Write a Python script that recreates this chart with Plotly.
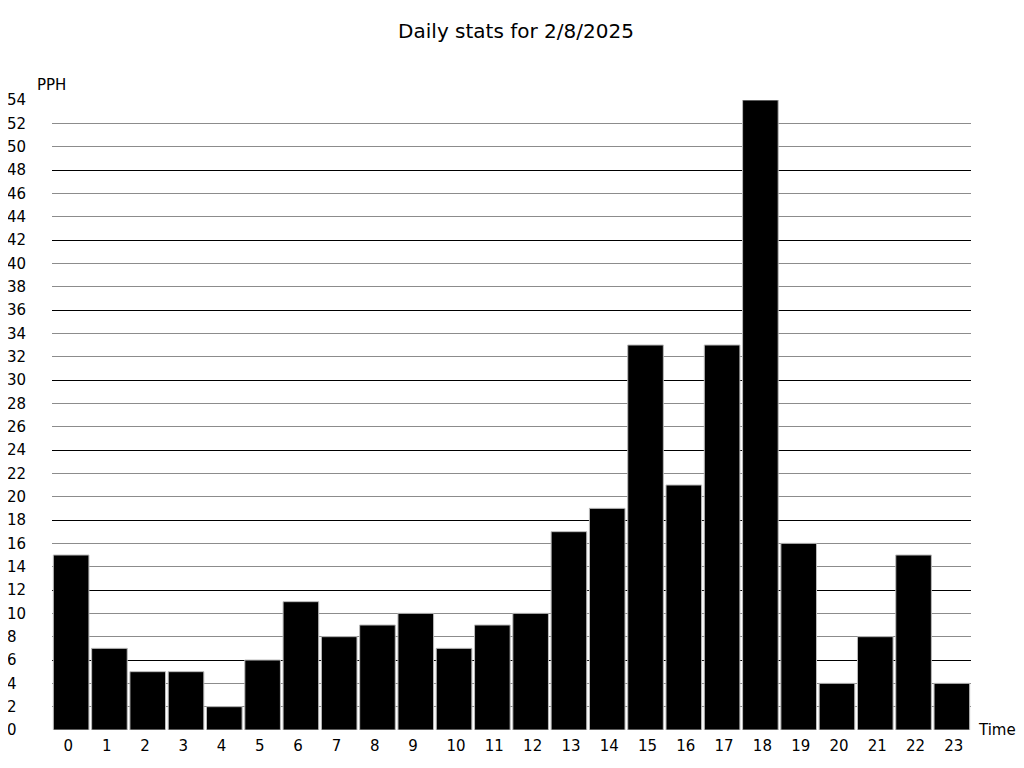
import plotly.graph_objects as go

hours = list(range(24))
pph = [15, 7, 5, 5, 2, 6, 11, 8, 9, 10, 7, 9, 10, 17, 19, 33, 21, 33, 54, 16, 4, 8, 15, 4]
y_ticks = list(range(0, 56, 2))
title_text = "Daily stats for 2/8/2025"
y_label = "PPH"
x_label = "Time"

FONT = "DejaVu Sans"
FIGSP = "\u2007"  # figure space (digit width) to left-align tick labels


def pad(v):
    return str(v) + FIGSP * (2 - len(str(v)))


fig = go.Figure()
fig.add_trace(go.Bar(
    x=hours, y=pph,
    marker=dict(color="black", line=dict(color="#bbbbbb", width=1)),
    width=0.93,
))
# invisible trace hosting the black (every 6) grid axis
fig.add_trace(go.Scatter(x=[hours[0]], y=[0], yaxis="y2", mode="markers",
                         marker=dict(opacity=0), showlegend=False, hoverinfo="skip"))

fig.update_layout(
    width=1016, height=752,
    paper_bgcolor="white", plot_bgcolor="white",
    margin=dict(l=44, r=53, t=92, b=30, autoexpand=False),
    showlegend=False,
    font=dict(family=FONT, size=15, color="black"),
    title=dict(text=title_text, x=0.5, xanchor="center", y=1 - 23 / 752, yanchor="middle",
               automargin=False, font=dict(family=FONT, size=20, color="black")),
    xaxis=dict(
        tickmode="array", tickvals=hours, ticktext=[pad(h) for h in hours],
        range=[-0.5, 23.5], showgrid=False, zeroline=False, showline=False,
        ticks="", ticklabelstandoff=5, ticklabelshift=2, automargin=False,
        tickfont=dict(size=15),
    ),
    yaxis=dict(
        range=[0, 54], tickmode="array", tickvals=y_ticks,
        ticktext=[pad(v) for v in y_ticks],
        showgrid=True, gridcolor="#8c8c8c", gridwidth=1,
        zeroline=False, showline=False, ticks="", ticklabelstandoff=25,
        automargin=False, tickfont=dict(size=15),
    ),
    yaxis2=dict(
        range=[0, 54], dtick=6, tick0=0, overlaying="y", side="left",
        showgrid=True, gridcolor="black", gridwidth=1, showticklabels=False,
        zeroline=False, showline=False, ticks="", automargin=False,
    ),
    annotations=[
        dict(text=y_label, xref="paper", yref="paper", x=0, y=1.0, xanchor="left",
             yanchor="middle", xshift=-17, yshift=15, showarrow=False, font=dict(size=15)),
        dict(text=x_label, xref="paper", yref="paper", x=1.0, y=0.0, xanchor="left",
             yanchor="middle", xshift=5, showarrow=False, font=dict(size=15)),
    ],
)

fig.write_html("out.html")
